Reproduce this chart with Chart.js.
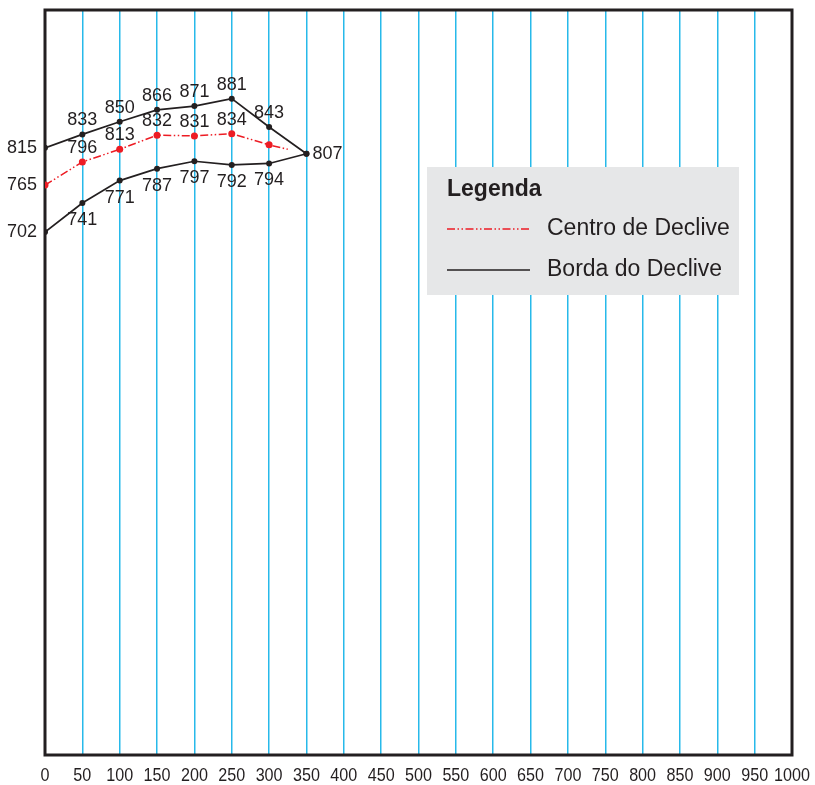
<!DOCTYPE html>
<html lang="pt">
<head>
<meta charset="utf-8">
<title>Perfil do Declive</title>
<script src="https://cdn.jsdelivr.net/npm/chart.js@4/dist/chart.umd.min.js"></script>
<style>
  body { margin: 0; background: #fff; }
  canvas { display: block; }
</style>
</head>
<body>
<canvas id="grafico" width="815" height="785"></canvas>
<script>
// Dados
const distancias = [0, 50, 100, 150, 200, 250, 300, 350];
const bordaSuperior = [815, 833, 850, 866, 871, 881, 843, 807];
const bordaInferior = [702, 741, 771, 787, 797, 792, 794, 807];
const centroX = [0, 50, 100, 150, 200, 250, 300, 325];
const centroDeclive = [765, 796, 813, 832, 831, 834, 819, 813];
const marcasX = [0, 50, 100, 150, 200, 250, 300, 350, 400, 450, 500,
                 550, 600, 650, 700, 750, 800, 850, 900, 950, 1000];

const corTexto = '#231f20';
const corGrade = '#27b9ea';

function pontos(xs, ys) {
    return xs.map((x, i) => ({ x: x, y: ys[i] }));
}

// Desenha a moldura preta em volta da área do gráfico
const moldura = {
    id: 'moldura',
    beforeDatasetsDraw(chart) {
        const a = chart.chartArea;
        const ctx = chart.ctx;
        ctx.save();
        ctx.strokeStyle = corTexto;
        ctx.lineWidth = 3;
        ctx.strokeRect(a.left, a.top, a.right - a.left, a.bottom - a.top);
        ctx.restore();
    }
};

// Números do eixo x, em letra estreita
const numerosX = {
    id: 'numerosX',
    afterDraw(chart) {
        const ctx = chart.ctx;
        const sx = chart.scales.x;
        ctx.save();
        ctx.fillStyle = corTexto;
        ctx.font = '19px "Liberation Sans", Arial, sans-serif';
        ctx.textAlign = 'center';
        ctx.textBaseline = 'middle';
        const fator = 0.85;
        sx.ticks.forEach(t => {
            const px = sx.getPixelForValue(t.value);
            ctx.save();
            ctx.translate(px, sx.top + 21);
            ctx.scale(fator, 1);
            ctx.fillText(String(t.value), 0, 0);
            ctx.restore();
        });
        ctx.restore();
    }
};

// Rótulos com o valor de cada ponto
const rotulos = {
    id: 'rotulos',
    afterDatasetsDraw(chart) {
        const ctx = chart.ctx;
        ctx.save();
        ctx.font = '18px "Liberation Sans", Arial, sans-serif';
        ctx.fillStyle = corTexto;
        chart.data.datasets.forEach((ds, d) => {
            const meta = chart.getDatasetMeta(d);
            meta.data.forEach((p, i) => {
                const pos = ds.rotulo[i];
                if (!pos) return;
                const txt = String(ds.data[i].y);
                ctx.textBaseline = 'middle';
                if (pos === 'left') {
                    ctx.textAlign = 'right';
                    ctx.fillText(txt, p.x - 8, p.y);
                } else if (pos === 'right') {
                    ctx.textAlign = 'left';
                    ctx.fillText(txt, p.x + 6, p.y);
                } else if (pos === 'above') {
                    ctx.textAlign = 'center';
                    ctx.fillText(txt, p.x, p.y - 14);
                } else {
                    ctx.textAlign = 'center';
                    ctx.fillText(txt, p.x, p.y + 17);
                }
            });
        });
        ctx.restore();
    }
};

// Caixa de legenda cinza
const legenda = {
    id: 'legenda',
    afterDraw(chart) {
        const ctx = chart.ctx;
        ctx.save();
        ctx.fillStyle = '#e6e7e8';
        ctx.fillRect(427, 167, 312, 128);
        ctx.fillStyle = corTexto;
        ctx.textAlign = 'left';
        ctx.textBaseline = 'middle';
        ctx.font = 'bold 23px "Liberation Sans", Arial, sans-serif';
        ctx.fillText('Legenda', 447, 190);
        const itens = [chart.data.datasets[0], chart.data.datasets[1]];
        itens.forEach((ds, i) => {
            const y = 229 + i * 41;
            ctx.strokeStyle = ds.borderColor;
            ctx.lineWidth = ds.borderWidth;
            ctx.setLineDash(ds.borderDash || []);
            ctx.beginPath();
            ctx.moveTo(447, y);
            ctx.lineTo(530, y);
            ctx.stroke();
            ctx.setLineDash([]);
            ctx.font = '23px "Liberation Sans", Arial, sans-serif';
            ctx.fillText(ds.label, 547, y);
        });
        ctx.restore();
    }
};

const ctx = document.getElementById('grafico').getContext('2d');
const grafico = new Chart(ctx, {
    type: 'line',
    data: {
        datasets: [{
            label: 'Centro de Declive',
            data: pontos(centroX, centroDeclive),
            borderColor: '#ed1c24',
            backgroundColor: '#ed1c24',
            borderWidth: 1.5,
            borderDash: [8, 2.5, 1.5, 2.5, 1.5, 2.5],
            pointRadius: c => c.dataIndex === centroX.length - 1 ? 0 : 3.5,
            pointBorderWidth: 0,
            rotulo: ['left', 'above', 'above', 'above', 'above', 'above', null, null]
        }, {
            label: 'Borda do Declive',
            data: pontos(distancias, bordaSuperior),
            borderColor: corTexto,
            backgroundColor: corTexto,
            borderWidth: 1.7,
            pointRadius: 3,
            pointBorderWidth: 0,
            rotulo: ['left', 'above', 'above', 'above', 'above', 'above', 'above', 'right']
        }, {
            label: 'Borda do Declive',
            data: pontos(distancias, bordaInferior),
            borderColor: corTexto,
            backgroundColor: corTexto,
            borderWidth: 1.7,
            pointRadius: 3,
            pointBorderWidth: 0,
            rotulo: ['left', 'below', 'below', 'below', 'below', 'below', 'below', null]
        }]
    },
    options: {
        responsive: false,
        animation: false,
        layout: { padding: { left: 45, right: 23, top: 10, bottom: 0 } },
        plugins: {
            legend: { display: false },
            tooltip: { enabled: false }
        },
        scales: {
            x: {
                type: 'linear',
                min: 0,
                max: 1000,
                afterBuildTicks: s => { s.ticks = marcasX.map(v => ({ value: v })); },
                afterFit: s => { s.height = 30; s.paddingLeft = 0; s.paddingRight = 0; },
                grid: { color: corGrade, lineWidth: 1.5, drawTicks: false },
                border: { display: false },
                ticks: { display: false }
            },
            y: {
                type: 'linear',
                min: 0,
                max: 1000,
                display: false
            }
        }
    },
    plugins: [moldura, numerosX, rotulos, legenda]
});
</script>
</body>
</html>
